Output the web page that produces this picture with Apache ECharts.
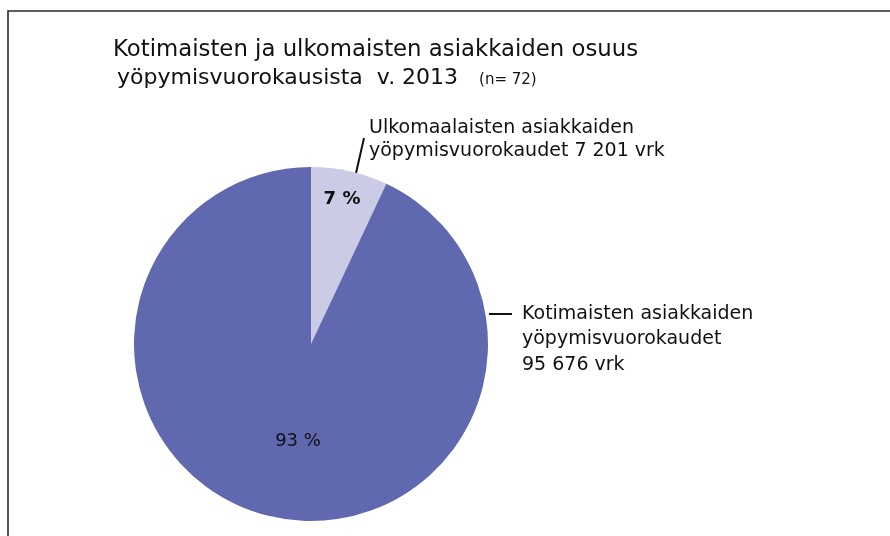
<!DOCTYPE html>
<html>
<head>
<meta charset="utf-8">
<script src="https://cdn.jsdelivr.net/npm/echarts@6/dist/echarts.min.js"></script>
<style>
  html, body { margin: 0; padding: 0; background: #fff; }
  #chart { width: 890px; height: 536px; }
</style>
</head>
<body>
<div id="chart"></div>
<script>
// yöpymisvuorokaudet 2013
const names = [
  "Ulkomaalaisten asiakkaiden\nyöpymisvuorokaudet 7 201 vrk",
  "Kotimaisten asiakkaiden\nyöpymisvuorokaudet\n95 676 vrk",
];
const values = [7201, 95676];
const colors = ["#cccbe6", "#6068b0"];

const FONT = "'DejaVu Sans', sans-serif";
const chart = echarts.init(document.getElementById("chart"), null, { renderer: "canvas" });

// label placement (pixels)
const inner = [
  { x: 342, y: 199, weight: "bold" },
  { x: 298, y: 441, weight: "normal" },
];
const outer = [
  { x: 369, y: 117, lh: 23, line: [[354, 182], [364, 138]] },
  { x: 522, y: 301, lh: 25.5, line: [[489, 314], [512, 314]] },
];

chart.setOption({
  animation: false,
  title: [
    {
      text: "Kotimaisten ja ulkomaisten asiakkaiden osuus",
      left: 108, top: 34,
      textStyle: { fontFamily: FONT, fontSize: 22.8, fontWeight: "normal", color: "#111" },
    },
    {
      text: "yöpymisvuorokausista  v. 2013   {n|(n= 72)}",
      left: 112, top: 62,
      textStyle: {
        fontFamily: FONT, fontSize: 22, fontWeight: "normal", color: "#111",
        rich: { n: { fontFamily: FONT, fontSize: 15, color: "#111", padding: [4, 0, 0, 0] } },
      },
    },
  ],
  graphic: [
    {
      type: "polyline",
      shape: { points: [[8, 536], [8, 11], [890, 11]] },
      style: { stroke: "#2a2a2a", lineWidth: 1.6, fill: null },
    },
  ],
  series: [
    {
      type: "pie",
      center: [311, 344],
      radius: [0, 177],
      startAngle: 90,
      clockwise: true,
      silent: true,
      data: names.map((n, i) => ({
        name: n, value: values[i],
        itemStyle: { color: colors[i] },
        label: { fontWeight: inner[i].weight },
      })),
      label: {
        show: true,
        position: "inside",
        fontFamily: FONT,
        fontSize: 18,
        color: "#111",
        formatter: (p) => Math.round(p.percent) + " %",
      },
      labelLine: { show: false },
      labelLayout: (p) => ({
        x: inner[p.dataIndex].x,
        y: inner[p.dataIndex].y,
        align: "center",
        verticalAlign: "middle",
      }),
    },
    {
      type: "pie",
      center: [311, 344],
      radius: [0, 177],
      startAngle: 90,
      clockwise: true,
      silent: true,
      data: names.map((n, i) => ({
        name: n, value: values[i], label: { lineHeight: outer[i].lh },
      })),
      itemStyle: { color: "rgba(0,0,0,0)" },
      label: {
        show: true,
        position: "outside",
        fontFamily: FONT,
        fontSize: 19,
        color: "#111",
        align: "left",
        overflow: "none",
        width: 400,
        formatter: (p) => p.name,
      },
      labelLine: { show: true, lineStyle: { color: "#111", width: 2 } },
      labelLayout: (p) => ({
        x: outer[p.dataIndex].x,
        y: outer[p.dataIndex].y,
        align: "left",
        verticalAlign: "top",
        labelLinePoints: outer[p.dataIndex].line,
      }),
    },
  ],
});
</script>
</body>
</html>
